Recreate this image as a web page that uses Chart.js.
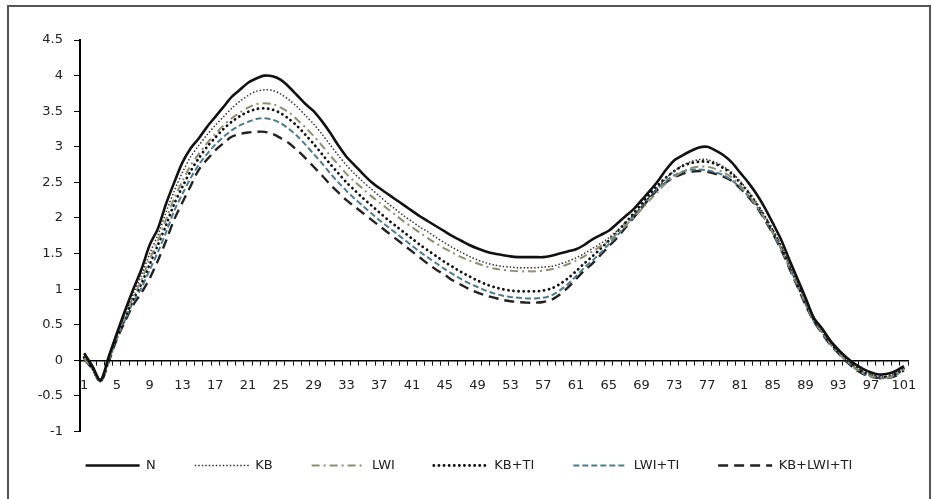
<!DOCTYPE html>
<html>
<head>
<meta charset="utf-8">
<script src="https://cdn.jsdelivr.net/npm/chart.js@4.4.0/dist/chart.umd.min.js"></script>
<style>
  html, body { margin: 0; padding: 0; background: #fff; }
  #wrap { position: relative; width: 932px; height: 499px; overflow: hidden; }
  #frame { position: absolute; left: 7px; top: 5px; width: 920px; height: 600px; border: 2px solid #555; pointer-events: none; }
</style>
</head>
<body>
<div id="wrap">
  <canvas id="myChart" width="932" height="499"></canvas>
  <div id="frame"></div>
</div>
<script>
var categories = [1,2,3,4,5,6,7,8,9,10,11,12,13,14,15,16,17,18,19,20,
  21,22,23,24,25,26,27,28,29,30,31,32,33,34,35,36,37,38,39,40,
  41,42,43,44,45,46,47,48,49,50,51,52,53,54,55,56,57,58,59,60,
  61,62,63,64,65,66,67,68,69,70,71,72,73,74,75,76,77,78,79,80,
  81,82,83,84,85,86,87,88,89,90,91,92,93,94,95,96,97,98,99,100,101];

var xTickLabels = ['1','5','9','13','17','21','25','29','33','37','41','45','49',
  '53','57','61','65','69','73','77','81','85','89','93','97','101'];

var seriesN = [0.10,-0.08,-0.28,0.05,0.38,0.70,1.00,1.28,1.62,1.85,
  2.20,2.50,2.78,2.98,3.12,3.28,3.42,3.56,3.70,3.80,
  3.90,3.96,4.00,3.99,3.94,3.84,3.72,3.60,3.50,3.36,
  3.20,3.02,2.86,2.74,2.62,2.51,2.42,2.34,2.26,2.18,
  2.10,2.02,1.95,1.88,1.81,1.74,1.68,1.62,1.57,1.53,
  1.50,1.48,1.46,1.45,1.45,1.45,1.45,1.47,1.50,1.53,
  1.56,1.62,1.70,1.76,1.82,1.92,2.02,2.12,2.25,2.38,
  2.52,2.68,2.81,2.88,2.94,2.99,3.00,2.95,2.88,2.78,
  2.64,2.50,2.34,2.15,1.93,1.70,1.42,1.15,0.88,0.60,
  0.45,0.28,0.15,0.04,-0.05,-0.12,-0.17,-0.20,-0.19,-0.15,
  -0.08];

var seriesKB = [0.05,-0.10,-0.28,0.02,0.36,0.66,0.94,1.20,1.50,1.76,
  2.08,2.38,2.64,2.86,3.02,3.17,3.30,3.42,3.54,3.64,
  3.72,3.78,3.80,3.79,3.74,3.66,3.56,3.44,3.32,3.18,
  3.03,2.88,2.74,2.62,2.51,2.41,2.31,2.21,2.12,2.03,
  1.95,1.87,1.80,1.72,1.65,1.58,1.52,1.46,1.41,1.37,
  1.34,1.32,1.31,1.30,1.30,1.30,1.31,1.32,1.35,1.39,
  1.44,1.50,1.57,1.64,1.72,1.82,1.93,2.04,2.16,2.30,
  2.43,2.56,2.66,2.74,2.79,2.82,2.82,2.78,2.72,2.64,
  2.52,2.38,2.22,2.04,1.84,1.62,1.36,1.10,0.84,0.58,
  0.42,0.26,0.13,0.02,-0.08,-0.15,-0.20,-0.23,-0.22,-0.18,
  -0.10];

var seriesLWI = [0.03,-0.11,-0.29,0.01,0.34,0.62,0.89,1.13,1.42,1.68,
  1.98,2.28,2.52,2.74,2.90,3.05,3.18,3.30,3.40,3.48,
  3.55,3.60,3.61,3.60,3.55,3.48,3.38,3.27,3.15,3.02,
  2.88,2.75,2.62,2.51,2.41,2.31,2.22,2.13,2.04,1.95,
  1.87,1.79,1.71,1.64,1.57,1.51,1.45,1.40,1.36,1.32,
  1.29,1.27,1.26,1.25,1.25,1.25,1.26,1.28,1.31,1.35,
  1.40,1.46,1.53,1.60,1.68,1.78,1.89,2.00,2.12,2.25,
  2.37,2.49,2.58,2.65,2.70,2.72,2.72,2.69,2.64,2.57,
  2.46,2.33,2.18,2.00,1.80,1.58,1.33,1.07,0.81,0.56,
  0.40,0.24,0.11,0.00,-0.10,-0.17,-0.22,-0.24,-0.24,-0.20,
  -0.12];

var seriesKBTI = [0.04,-0.11,-0.29,0.00,0.33,0.60,0.86,1.08,1.35,1.62,
  1.90,2.20,2.44,2.66,2.84,3.00,3.13,3.25,3.35,3.43,
  3.49,3.53,3.54,3.52,3.47,3.39,3.29,3.17,3.04,2.90,
  2.76,2.63,2.50,2.39,2.28,2.18,2.08,1.98,1.89,1.80,
  1.71,1.62,1.54,1.46,1.38,1.31,1.24,1.18,1.12,1.07,
  1.03,1.00,0.98,0.97,0.97,0.97,0.98,1.01,1.07,1.15,
  1.25,1.36,1.46,1.57,1.68,1.80,1.93,2.06,2.20,2.34,
  2.46,2.57,2.66,2.73,2.77,2.79,2.79,2.76,2.70,2.62,
  2.50,2.36,2.20,2.02,1.82,1.60,1.34,1.08,0.82,0.57,
  0.41,0.25,0.12,0.01,-0.09,-0.16,-0.21,-0.24,-0.23,-0.19,
  -0.11];

var seriesLWITI = [0.03,-0.12,-0.30,-0.01,0.31,0.57,0.82,1.02,1.27,1.52,
  1.80,2.10,2.34,2.56,2.75,2.90,3.03,3.14,3.23,3.30,
  3.35,3.39,3.40,3.38,3.33,3.25,3.15,3.03,2.90,2.77,
  2.63,2.50,2.38,2.27,2.17,2.07,1.97,1.88,1.79,1.70,
  1.61,1.52,1.44,1.36,1.28,1.21,1.14,1.08,1.03,0.98,
  0.94,0.91,0.89,0.88,0.87,0.87,0.88,0.91,0.98,1.07,
  1.18,1.30,1.40,1.51,1.63,1.75,1.88,2.02,2.16,2.30,
  2.42,2.52,2.60,2.65,2.68,2.68,2.67,2.64,2.60,2.53,
  2.43,2.31,2.17,1.99,1.79,1.57,1.31,1.05,0.79,0.55,
  0.39,0.23,0.10,-0.01,-0.11,-0.18,-0.23,-0.25,-0.25,-0.21,
  -0.13];

var seriesKBLWITI = [0.02,-0.12,-0.30,-0.02,0.30,0.55,0.78,0.95,1.15,1.40,
  1.68,1.98,2.22,2.45,2.68,2.82,2.95,3.05,3.14,3.18,
  3.20,3.21,3.21,3.18,3.12,3.05,2.95,2.84,2.72,2.60,
  2.47,2.36,2.25,2.16,2.07,1.98,1.89,1.80,1.71,1.62,
  1.53,1.44,1.35,1.27,1.20,1.12,1.06,1.00,0.95,0.91,
  0.88,0.85,0.83,0.82,0.81,0.81,0.82,0.85,0.92,1.02,
  1.14,1.26,1.36,1.48,1.60,1.72,1.86,2.00,2.14,2.28,
  2.40,2.50,2.57,2.62,2.65,2.66,2.65,2.62,2.58,2.52,
  2.42,2.30,2.16,1.98,1.78,1.56,1.30,1.04,0.78,0.55,
  0.38,0.22,0.10,-0.02,-0.12,-0.19,-0.23,-0.25,-0.25,-0.22,
  -0.14];

var font = "'DejaVu Sans', sans-serif";
var legendGap = '\u00a0\u00a0\u00a0\u00a0\u00a0\u00a0\u00a0';

var ctx = document.getElementById('myChart').getContext('2d');
var myChart = new Chart(ctx, {
    type: 'line',
    data: {
        labels: categories,
        datasets: [
            { label: 'N', data: seriesN, borderColor: '#111', borderWidth: 2.6 },
            { label: 'KB', data: seriesKB, borderColor: '#333', borderWidth: 1.5, borderDash: [1.5, 2] },
            { label: 'LWI', data: seriesLWI, borderColor: '#8e8e72', borderWidth: 2, borderDash: [8, 4, 2, 4] },
            { label: 'KB+TI', data: seriesKBTI, borderColor: '#111', borderWidth: 2.8, borderDash: [0.1, 5], borderCapStyle: 'round' },
            { label: 'LWI+TI', data: seriesLWITI, borderColor: '#4d7c8c', borderWidth: 2, borderDash: [6, 3] },
            { label: 'KB+LWI+TI', data: seriesKBLWITI, borderColor: '#222', borderWidth: 2.4, borderDash: [10, 6] }
        ]
    },
    options: {
        responsive: false,
        animation: false,
        elements: {
            point: { radius: 0 },
            line: { tension: 0.3, fill: false, borderJoinStyle: 'round' }
        },
        layout: { padding: { left: 30, top: 40, right: 24, bottom: 17 } },
        plugins: {
            tooltip: { enabled: false },
            legend: {
                position: 'bottom',
                title: { display: true, text: '', font: { size: 10 }, padding: { top: 5.5, bottom: 0 } },
                labels: {
                    usePointStyle: true,
                    pointStyle: 'line',
                    pointStyleWidth: 54,
                    padding: 10,
                    color: '#222',
                    font: { family: font, size: 13 },
                    generateLabels: function(chart) {
                        var items = Chart.defaults.plugins.legend.labels.generateLabels(chart);
                        items.forEach(function(it, k) {
                            var ds = chart.data.datasets[it.datasetIndex];
                            it.lineDash = ds.borderDash || [];
                            it.lineWidth = ds.borderWidth;
                            it.strokeStyle = ds.borderColor;
                            it.lineCap = ds.borderCapStyle || 'butt';
                            if (k < items.length - 1) it.text = it.text + legendGap;
                        });
                        return items;
                    }
                }
            }
        },
        scales: {
            x: {
                type: 'category',
                position: { y: 0 },
                offset: true,
                grid: { drawOnChartArea: false, drawTicks: true, tickLength: 4, color: '#000', offset: true },
                border: { color: '#000', width: 1.5 },
                ticks: {
                    autoSkip: false,
                    maxRotation: 0,
                    padding: 14,
                    color: '#222',
                    font: { family: font, size: 13 },
                    callback: function(val, i) {
                        var l = String(categories[i]);
                        return xTickLabels.indexOf(l) >= 0 ? l : '';
                    }
                }
            },
            y: {
                min: -1,
                max: 4.5,
                afterFit: function(s) { s.width = 50; },
                grid: { drawOnChartArea: false, drawTicks: true, tickLength: 6, color: '#000' },
                border: { color: '#000', width: 2 },
                ticks: {
                    stepSize: 0.5,
                    padding: 11,
                    color: '#222',
                    font: { family: font, size: 13 },
                    callback: function(v) { return String(Math.round(v * 10) / 10); }
                }
            }
        }
    }
});
</script>
</body>
</html>
